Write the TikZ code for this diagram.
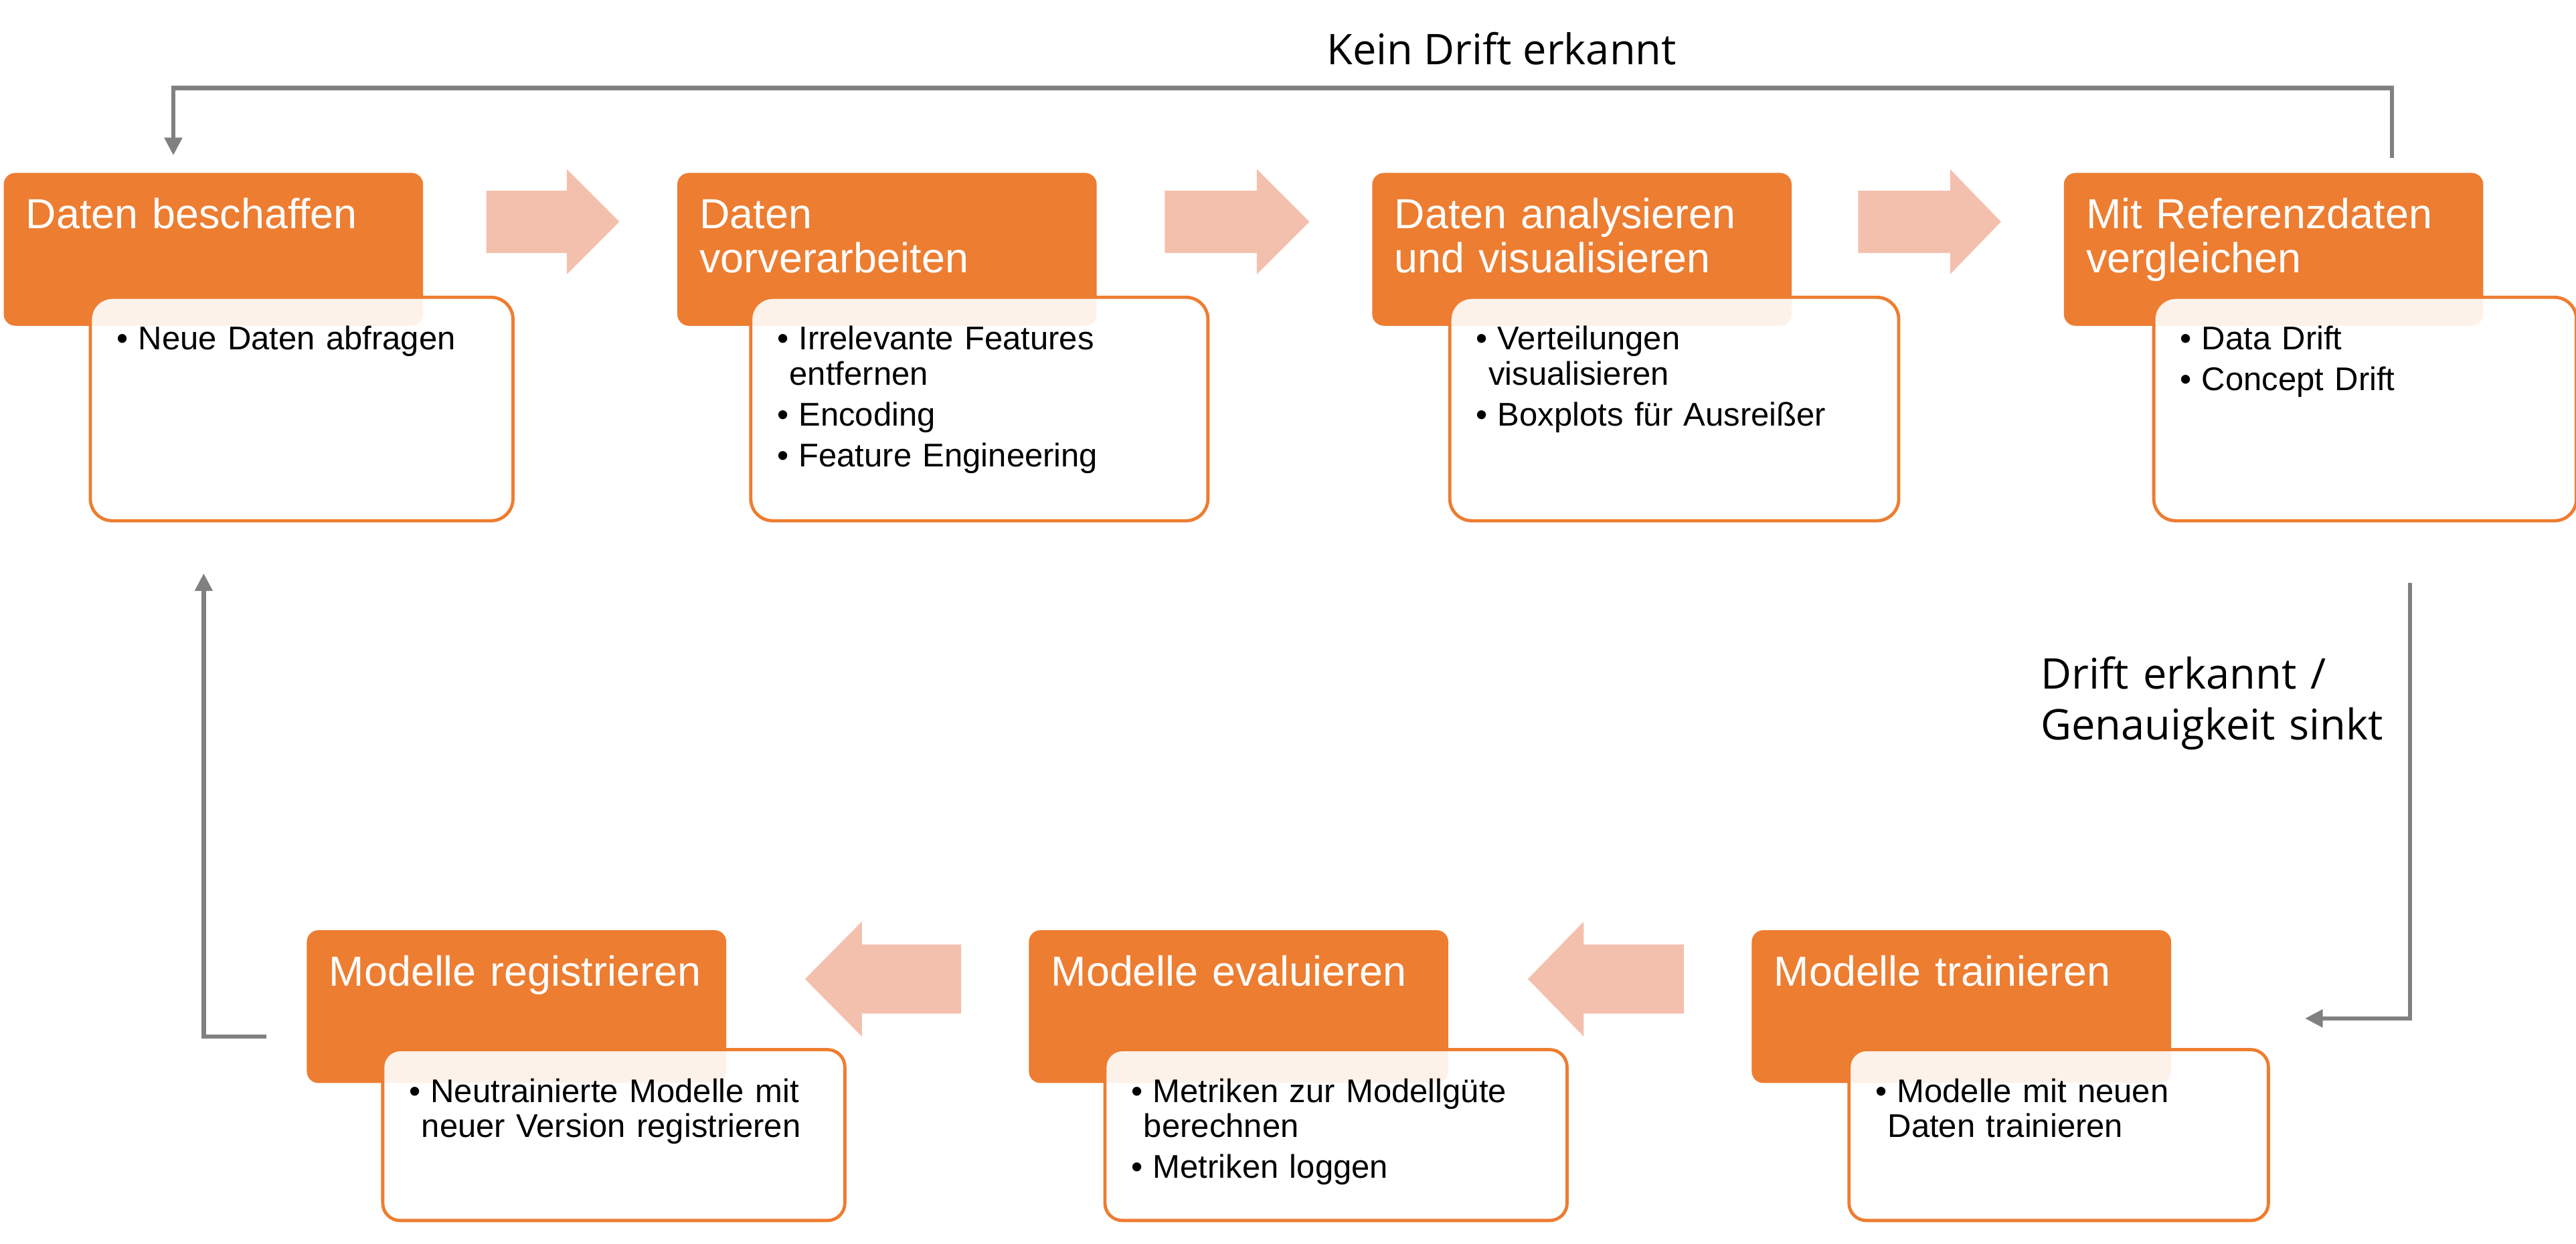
\documentclass[tikz,border=0pt]{standalone}
\usepackage{fontspec}
\setmainfont{Liberation Sans}
\newfontfamily\labelfont{Open Sans}
\usetikzlibrary{arrows.meta, positioning}
\definecolor{accent}{RGB}{237,125,49}
\definecolor{flowpink}{RGB}{244,192,174}
\definecolor{loopgray}{RGB}{128,128,128}
% bullet item, continuation line, gap between items
\newcommand{\itm}[1]{\mbox{\makebox[0.33cm][l]{\textbullet}#1}}
\newcommand{\cnt}[1]{\mbox{\hspace*{0.19cm}#1}}
\newcommand{\gap}{\\[0.09cm]}
% block arrow: tail x, head base x, tip x, mid y, shaft half, head half
\newcommand{\flowarrow}[6]{%
  \fill[flow] (#1,#4-#5) -- (#2,#4-#5) -- (#2,#4-#6) -- (#3,#4)
    -- (#2,#4+#6) -- (#2,#4+#5) -- (#1,#4+#5) -- cycle;}
\tikzset{
  stage/.style={rectangle, rounded corners=5pt, fill=accent, text=white,
    anchor=north west, text width=5.7cm, align=left, inner xsep=0.34cm,
    inner ysep=0pt, text height=0.85cm, text depth=1.475cm,
    font=\fontsize{18.2pt}{19pt}\selectfont},
  detail/.style={rectangle, draw=accent, line width=1.4pt, fill=white,
    fill opacity=0.9, text opacity=1, text=black, anchor=north west,
    text width=#1, align=left, inner xsep=0.40cm, inner ysep=0pt,
    text height=0.8cm, font=\fontsize{14.2pt}{15.15pt}\selectfont},
  tall/.style={text depth=2.6cm, rounded corners=9.5pt},
  short/.style={text depth=1.8cm, rounded corners=7.5pt},
  loop/.style={draw=loopgray, line width=1.9pt,
    -{Triangle[length=0.27cm, width=0.26cm]}},
  looplabel/.style={font=\labelfont\fontsize{18.3pt}{22pt}\selectfont,
    inner sep=0pt},
  flow/.style={fill=flowpink},
}

\begin{document}
\begin{tikzpicture}[x=0.025cm, y=-0.025cm]
  \useasboundingbox (0,0) rectangle (1568,757);

  % flow arrows
  \flowarrow{296}{345}{377}{135}{19}{32}
  \flowarrow{709}{765}{797}{135}{19}{32}
  \flowarrow{1131}{1187}{1218}{135}{19}{32}
  \flowarrow{1025}{964}{930}{596}{21}{35}
  \flowarrow{585}{524.6}{490}{596}{21}{35}

  % upper row
  \node[stage] (get)     at (2,105)    {Daten beschaffen};
  \node[stage] (prep)    at (412,105)  {Daten\\vorverarbeiten};
  \node[stage] (analyse) at (835,105)  {Daten analysieren\\und visualisieren};
  \node[stage] (compare) at (1256,105) {Mit Referenzdaten\\vergleichen};

  \node[detail=5.63cm, tall] (getD) at (54,180)
    {\itm{Neue Daten abfragen}};
  \node[detail=6.155cm, tall] (prepD) at (456,180)
    {\itm{Irrelevante Features}\\\cnt{entfernen}\gap
     \itm{Encoding}\gap\itm{Feature Engineering}};
  \node[detail=6.03cm, tall] (analyseD) at (881.5,180)
    {\itm{Verteilungen}\\\cnt{visualisieren}\gap
     \itm{Boxplots für Ausreißer}};
  \node[detail=5.63cm, tall] (compareD) at (1310,180)
    {\itm{Data Drift}\gap\itm{Concept Drift}};

  % lower row
  \node[stage] (register) at (186.5,566) {Modelle registrieren};
  \node[stage] (evaluate) at (626,566)   {Modelle evaluieren};
  \node[stage] (train)    at (1066,566)  {Modelle trainieren};

  \node[detail=6.23cm, short] (registerD) at (232,638)
    {\itm{Neutrainierte Modelle mit}\\\cnt{neuer Version registrieren}};
  \node[detail=6.23cm, short] (evaluateD) at (671.6,638)
    {\itm{Metriken zur Modellgüte}\\\cnt{berechnen}\gap
     \itm{Metriken loggen}};
  \node[detail=5.58cm, short] (trainD) at (1124.5,638)
    {\itm{Modelle mit neuen}\\\cnt{Daten trainieren}};

  % loop connectors
  \coordinate (kdFrom) at (1456,96);
  \coordinate (kdTo)   at (105.5,94.6);
  \coordinate (kdTop)  at (0,53.6);
  \draw[loop] (kdFrom) |- (kdTop -| kdTo) -- (kdTo);
  \node[looplabel, anchor=base] (kdLabel) at (914,39.5) {Kein Drift erkannt};

  \coordinate (drFrom) at (1467,355);
  \coordinate (drTo)   at (1403,620);
  \draw[loop] (drFrom) |- (drTo);
  \node[looplabel, anchor=base west, text width=6cm, align=left] (drLabel)
    at (1242,419.5) {Drift erkannt /\\Genauigkeit sinkt};

  \coordinate (regFrom) at (162,631);
  \coordinate (regTo)   at (124,349);
  \draw[loop] (regFrom) -| (regTo);
\end{tikzpicture}
\end{document}
